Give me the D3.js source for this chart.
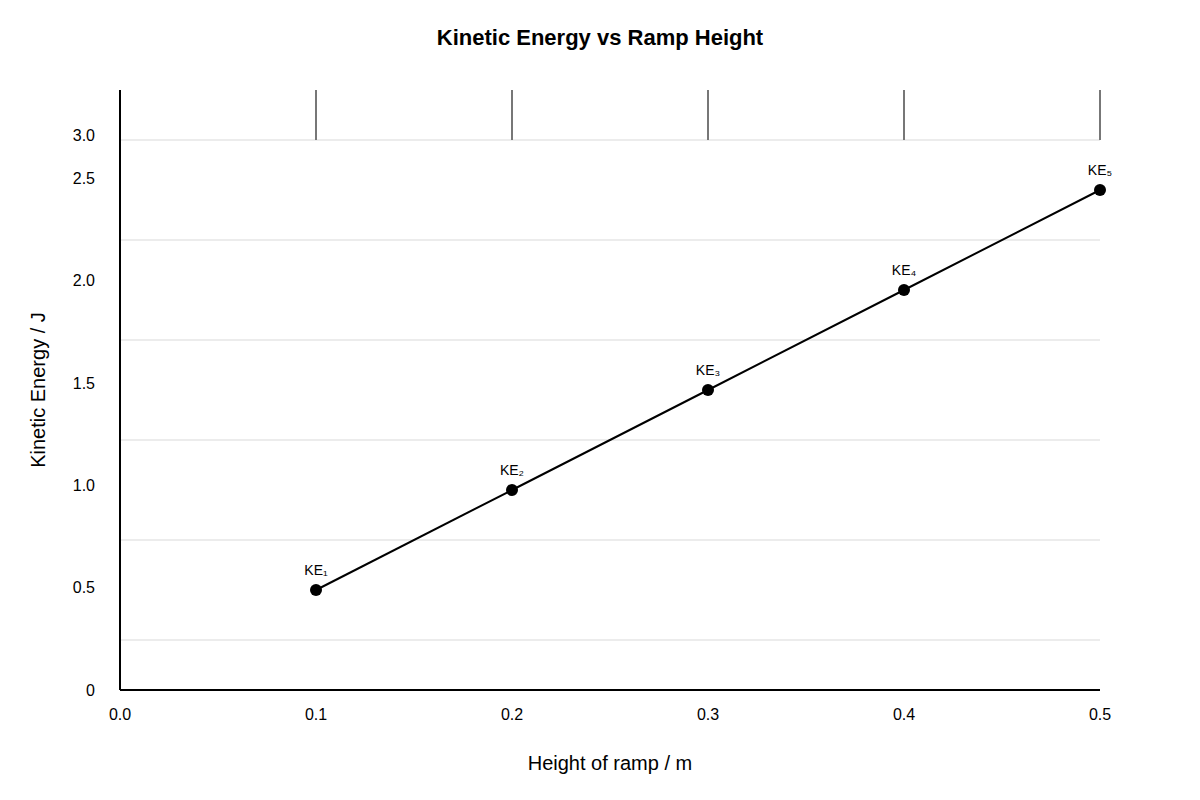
<!DOCTYPE html>
<html><head><meta charset="utf-8">
<script src="https://cdn.jsdelivr.net/npm/d3@7"></script>
<style>body{margin:0;background:#fff}text{font-family:"Liberation Sans",Arial,sans-serif}</style>
</head><body><svg id="c" width="1200" height="800"></svg>
<script>
const heights = [0.1, 0.2, 0.3, 0.4, 0.5];
const energies = [0.5, 1.0, 1.5, 2.0, 2.5];
const pointLabels = ["KE₁", "KE₂", "KE₃", "KE₄", "KE₅"];
const xTicks = [0.0, 0.1, 0.2, 0.3, 0.4, 0.5];
const gridValues = [0.25, 0.75, 1.25, 1.75, 2.25, 2.75];
const yTickLabels = ["0", "0.5", "1.0", "1.5", "2.0", "2.5", "3.0"];
const yTickLabelValues = [0, 0.515, 1.025, 1.535, 2.05, 2.56, 2.775];

const svg = d3.select("#c");
const x = d3.scaleLinear().domain([0, 0.5]).range([120, 1100]);
const y = d3.scaleLinear().domain([0, 3]).range([690, 90]);

svg.append("text").attr("x", 600).attr("y", 45).attr("text-anchor", "middle")
  .attr("font-size", 22).attr("font-weight", "bold").text("Kinetic Energy vs Ramp Height");

svg.selectAll(".grid").data(gridValues).enter().append("line")
  .attr("x1", x(0)).attr("x2", x(0.5)).attr("y1", d => y(d)).attr("y2", d => y(d))
  .attr("stroke", "#d9d9d9").attr("stroke-width", 1);

svg.selectAll(".vt").data(heights).enter().append("line")
  .attr("x1", d => x(d)).attr("x2", d => x(d)).attr("y1", y(3)).attr("y2", y(2.75))
  .attr("stroke", "#777").attr("stroke-width", 2);

svg.append("line").attr("x1", x(0)).attr("x2", x(0)).attr("y1", y(3)).attr("y2", y(0)).attr("stroke", "#000").attr("stroke-width", 2);
svg.append("line").attr("x1", x(0)).attr("x2", x(0.5)).attr("y1", y(0)).attr("y2", y(0)).attr("stroke", "#000").attr("stroke-width", 2);

svg.selectAll(".xl").data(xTicks).enter().append("text")
  .attr("x", d => x(d)).attr("y", 720).attr("text-anchor", "middle").attr("font-size", 16)
  .text(d => d.toFixed(1));

svg.selectAll(".yl").data(yTickLabels).enter().append("text")
  .attr("x", 95).attr("y", (d, i) => y(yTickLabelValues[i]) + 6).attr("text-anchor", "end").attr("font-size", 16)
  .text(d => d);

svg.append("text").attr("x", 610).attr("y", 770).attr("text-anchor", "middle").attr("font-size", 20).text("Height of ramp / m");
svg.append("text").attr("transform", "translate(45,390) rotate(-90)").attr("text-anchor", "middle").attr("font-size", 20).text("Kinetic Energy / J");

const line = d3.line().x((d, i) => x(heights[i])).y(d => y(d));
svg.append("path").datum(energies).attr("d", line).attr("fill", "none").attr("stroke", "#000").attr("stroke-width", 2);

svg.selectAll(".pt").data(energies).enter().append("circle")
  .attr("cx", (d, i) => x(heights[i])).attr("cy", d => y(d)).attr("r", 6).attr("fill", "#000");

svg.selectAll(".pl").data(pointLabels).enter().append("text")
  .attr("x", (d, i) => x(heights[i])).attr("y", (d, i) => y(energies[i]) - 15)
  .attr("text-anchor", "middle").attr("font-size", 14).text(d => d);
</script></body></html>
